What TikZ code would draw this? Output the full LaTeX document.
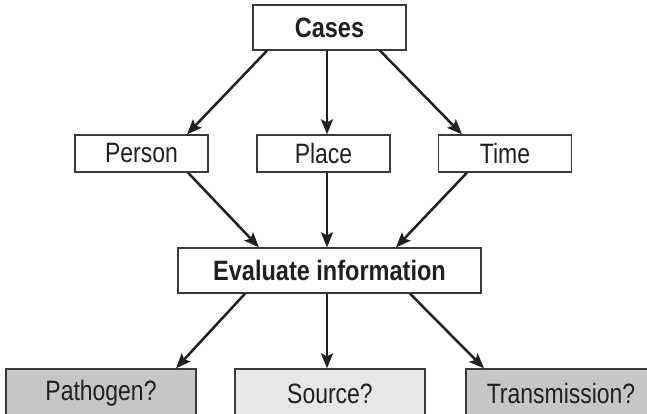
\documentclass[tikz,border=0pt]{standalone}
\usepackage{fontspec}
\setmainfont[FakeStretch=0.82,BoldFeatures={FakeStretch=0.84}]{Liberation Sans}
\usetikzlibrary{arrows.meta}

\definecolor{boxline}{HTML}{3A3A3A}
\definecolor{inktext}{HTML}{231F20}
\definecolor{darkfill}{HTML}{C6C6C6}
\definecolor{lightfill}{HTML}{E6E7E8}

\begin{document}
\begin{tikzpicture}[x=1pt,y=1pt,->,>={Stealth[length=15pt,width=12pt,inset=3pt]},line width=2.5pt,
    box/.style={draw=boxline,line width=1.3pt,fill=white,inner sep=0pt,text=inktext,font=\fontsize{28}{32}\selectfont},
    top box/.style={box,minimum width=153pt,minimum height=45pt,font=\fontsize{28}{32}\selectfont\bfseries},
    mid box/.style={box,minimum width=133pt,minimum height=37pt},
    end box/.style={box,minimum width=190pt,minimum height=49pt}]
                \useasboundingbox (0,0) rectangle (647,414);

                \node[top box] (cases) at (329.5,386.5) {Cases};
                \node[mid box] (person) at (141.5,260.5) {Person};
                \node[mid box] (place) at (323.5,260.5) {Place};
                \node[mid box] (time) at (505,260.5) {Time};
                \node[top box, minimum width=303pt] (eval) at (329.5,143.5) {Evaluate information};
                \node[end box, fill=darkfill] (pathogen) at (101,20.5) {Pathogen?};
                \node[end box, fill=lightfill] (source) at (330,20.5) {Source?};
                \node[end box, fill=darkfill] (trans) at (561,20.5) {Transmission?};

                \path[every edge/.style={draw,inktext}]
                    ([xshift=-62.5pt]cases.south) edge ([xshift=45.5pt]person.north)
                    ([xshift=-2.5pt]cases.south) edge ([xshift=3.5pt]place.north)
                    ([xshift=50.5pt]cases.south) edge ([xshift=-43pt]time.north)
                    ([xshift=46.5pt]person.south) edge ([xshift=-70.5pt]eval.north)
                    ([xshift=3.5pt]place.south) edge ([xshift=-2.5pt]eval.north)
                    ([xshift=-38pt]time.south) edge ([xshift=66.5pt]eval.north)
                    ([xshift=-84.5pt]eval.south) edge ([xshift=75pt]pathogen.north)
                    ([xshift=-2.5pt]eval.south) edge ([xshift=-3pt]source.north)
                    ([xshift=80.5pt]eval.south) edge ([xshift=-77pt]trans.north)
                    ;
            \end{tikzpicture}
\end{document}
